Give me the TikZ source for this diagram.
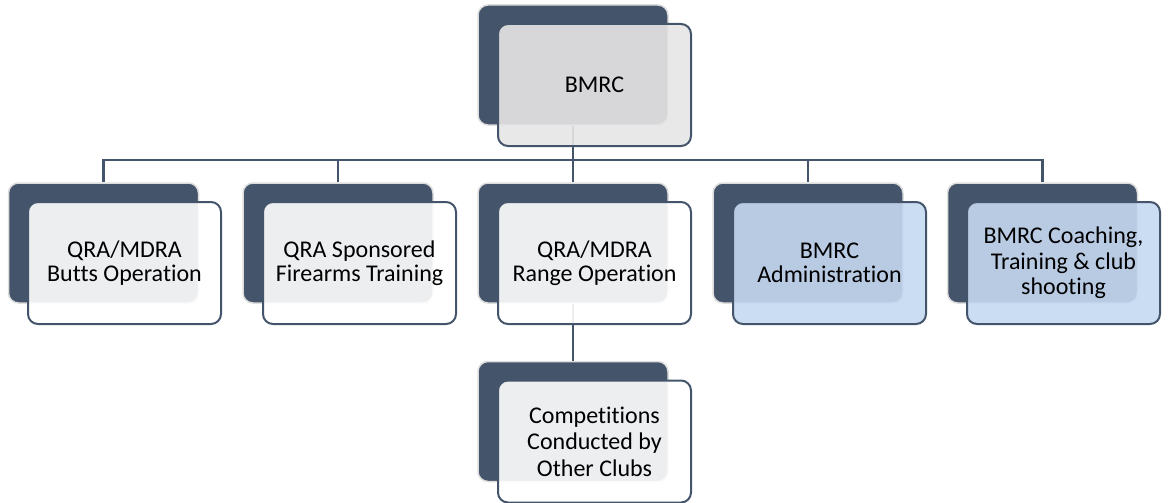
\documentclass[tikz,border=0pt]{standalone}
\usepackage{fontspec}
\setmainfont{Carlito}[Ligatures=NoCommon]
\definecolor{dark}{HTML}{44546A}
\definecolor{backline}{HTML}{DDDDDD}
\definecolor{topfill}{HTML}{E7E6E6}
\definecolor{bluefill}{HTML}{C5D9F1}
\tikzset{
  backbox/.style={fill=dark, draw=backline, line width=1.5pt, rounded corners=10pt,
    minimum width=190pt, minimum height=120pt, inner sep=0pt},
  frontbox/.style={draw=dark, line width=2pt, rounded corners=10pt, fill=white,
    fill opacity=0.9, text opacity=1, minimum width=193pt, minimum height=122pt,
    inner sep=0pt, align=center, font=\fontsize{24}{24.5}\selectfont},
  conn/.style={draw=dark, line width=2.2pt},
}
\begin{document}
\begin{tikzpicture}[x=1pt,y=-1pt]
\useasboundingbox (0,0) rectangle (1168,503);
% back boxes
\node[backbox] (b0) at (573,65) {};
\node[backbox] (b1) at (103.5,243) {};
\node[backbox] (b2) at (338,243) {};
\node[backbox] (b3) at (573,243) {};
\node[backbox] (b4) at (808,243) {};
\node[backbox] (b5) at (1042.5,243) {};
\node[backbox] (b6) at (573,421.5) {};
% connectors
\coordinate (h) at (573,160);
\draw[conn] (b0.south) -- (h);
\draw[conn] (h) -| (b1.north);
\draw[conn] (h) -| (b2.north);
\draw[conn] (h) -- (b3.north);
\draw[conn] (h) -| (b4.north);
\draw[conn] (h) -| (b5.north);
\draw[conn] (b3.south) -- (b6.north);
% front boxes
\node[frontbox, fill=topfill] (f0) at (594.5,85) {BMRC};
\node[frontbox] (f1) at (124.5,263) {QRA/MDRA\\Butts Operation};
\node[frontbox] (f2) at (359.5,263) {QRA Sponsored\\Firearms Training};
\node[frontbox] (f3) at (594.5,263) {QRA/MDRA\\Range Operation};
\node[frontbox, fill=bluefill] (f4) at (829.5,263) {BMRC\\Administration};
\node[frontbox, fill=bluefill, font=\fontsize{24}{25.7}\selectfont] (f5) at (1063.5,263) {BMRC Coaching,\\Training \& club\\shooting};
\node[frontbox, font=\fontsize{24}{26.5}\selectfont] (f6) at (594.5,441.5) {Competitions\\Conducted by\\Other Clubs};
\end{tikzpicture}
\end{document}
